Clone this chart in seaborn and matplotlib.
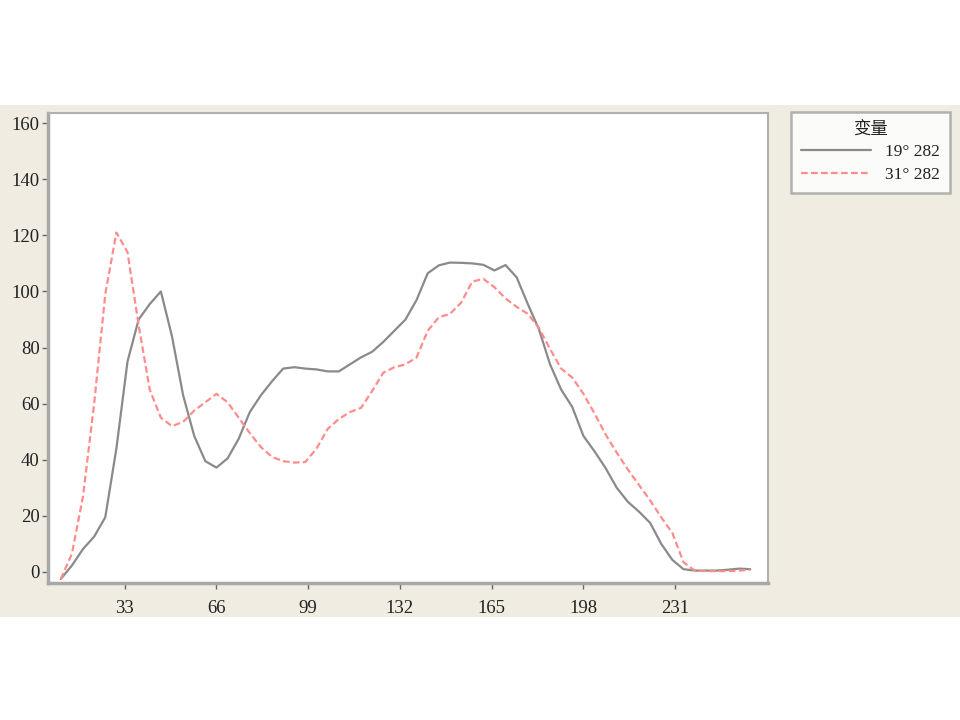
import numpy as np
import pandas as pd
import matplotlib
matplotlib.use("Agg")
import matplotlib.pyplot as plt
from matplotlib.patches import Rectangle
from matplotlib.lines import Line2D
import seaborn as sns

# data
x_vals = [10, 14, 18, 22, 26, 30, 34, 38, 42, 46, 50, 54, 58, 62, 66, 70, 74, 78,
          82, 86, 90, 94, 98, 102, 106, 110, 114, 118, 122, 126, 130, 134, 138,
          142, 146, 150, 154, 158, 162, 166, 170, 174, 178, 182, 186, 190, 194,
          198, 202, 206, 210, 214, 218, 222, 226, 230, 234, 238, 242, 246, 250,
          254, 258]
s19 = [-2.5, 2.3, 8.2, 12.6, 19.5, 44, 75, 90, 95.5, 100, 84, 63, 48.5, 39.5,
       37.2, 40.5, 47.5, 57, 63, 68, 72.5, 73, 72.5, 72.2, 71.5, 71.5, 74, 76.5,
       78.5, 82, 86, 90, 97, 106.5, 109.3, 110.3, 110.2, 110, 109.5, 107.5,
       109.4, 105, 95.5, 86.5, 74, 65, 58.8, 48.5, 43, 37, 30, 25, 21.5, 17.5,
       10, 4.3, 1, 0.5, 0.5, 0.5, 0.8, 1.2, 1.0]
s31 = [-2.5, 6.5, 27, 60, 99, 121, 114, 88, 65, 55, 52, 53.5, 57.5, 60.5, 63.5,
       60.5, 55, 49.5, 44.5, 41, 39.5, 39, 39.2, 44, 51, 54.5, 57, 58.5, 64.5,
       71, 73, 74, 76.5, 86, 90.8, 92, 96, 103.5, 104.5, 101.5, 97.5, 94.5, 92,
       87, 79.5, 72.5, 69.3, 63.5, 56.5, 49, 42.5, 36.5, 31, 25.5, 19.5, 13.9,
       3.5, 0.5, 0.3, 0.3, 0.3, 0.5, 0.8]
names = ["19° 282", "31° 282"]
legend_title = "变量"
xticks = [33, 66, 99, 132, 165, 198, 231]
yticks = [0, 20, 40, 60, 80, 100, 120, 140, 160]

df = pd.DataFrame({
    "x": x_vals * 2,
    "y": s19 + s31,
    "var": [names[0]] * len(x_vals) + [names[1]] * len(x_vals),
})

sns.set_style("white")
plt.rcParams["font.family"] = ["Liberation Serif", "Noto Sans CJK SC", "DejaVu Sans"]

fig = plt.figure(figsize=(9.6, 7.2), dpi=100)
fig.patch.set_facecolor("white")
# beige band behind the chart
band = Rectangle((0, 0.143), 1, 0.711, transform=fig.transFigure,
                 facecolor="#F0ECE2", edgecolor="none", zorder=-10)
fig.add_artist(band)

ax = fig.add_axes([0.05, 0.19, 0.75, 0.653])
ax.set_facecolor("white")

colors = {names[0]: "#8A8A8A", names[1]: "#FF8C8C"}
sns.lineplot(data=df, x="x", y="y", hue="var", style="var",
             palette=colors, dashes={names[0]: "", names[1]: (3, 1.5)},
             linewidth=1.6, legend=False, ax=ax)

ax.set_xlim(5.4, 264.4)
ax.set_ylim(-4, 163.6)
ax.set_xticks(xticks)
ax.set_yticks(yticks)
ax.set_xlabel("")
ax.set_ylabel("")
ax.tick_params(axis="both", direction="out", length=4, width=1, color="#666666",
               labelsize=13.5, labelcolor="#222222", pad=2,
               bottom=True, left=True)
ax.tick_params(axis="x", pad=8)
for side in ["left", "bottom"]:
    ax.spines[side].set_color("#A8A8A8")
    ax.spines[side].set_linewidth(2.5)
for side in ["top", "right"]:
    ax.spines[side].set_color("#B0B0B0")
    ax.spines[side].set_linewidth(1.5)

handles = [Line2D([], [], color=colors[names[0]], lw=1.6),
           Line2D([], [], color=colors[names[1]], lw=1.6, ls=(0, (3, 1.5)))]
leg = fig.legend(handles, names, title=legend_title, loc="upper left",
                 bbox_to_anchor=(0.824, 0.845), bbox_transform=fig.transFigure,
                 frameon=True, fancybox=False, edgecolor="#A0A0A0",
                 fontsize=12.5, title_fontsize=12.5, handlelength=4.0,
                 borderpad=0.6, labelspacing=0.35, handletextpad=0.8,
                 borderaxespad=0, alignment="center")
leg.get_frame().set_linewidth(1.8)
leg.get_frame().set_facecolor("white")
plt.setp(leg.get_texts(), color="#222222")
leg.get_title().set_color("#222222")

fig.savefig("out.png", dpi=100)
